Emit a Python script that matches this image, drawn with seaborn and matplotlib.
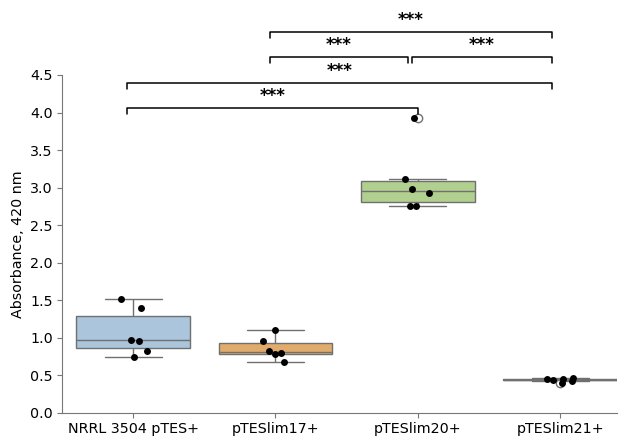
import numpy as np
import pandas as pd
import matplotlib
matplotlib.use("Agg")
import matplotlib.pyplot as plt
import seaborn as sns

# ---- data ----
strains = ["NRRL 3504 pTES+", "pTESlim17+", "pTESlim20+", "pTESlim21+"]
nrrl = [1.52, 1.40, 0.97, 0.96, 0.83, 0.74]
lim17 = [1.11, 0.96, 0.83, 0.78, 0.80, 0.68]
lim20 = [3.93, 3.12, 2.98, 2.93, 2.76, 2.76]
lim21 = [0.43, 0.445, 0.455, 0.46, 0.44, 0.40]
box_colors = ["#aac5dc", "#e1ac6b", "#b1cf8f", "#d9a0a0"]

# significance brackets: (left, right, height, label)
bracket_left = [-0.04, 0.96, 1.96, -0.04, 0.96]
bracket_right = [2.0, 1.93, 2.94, 2.94, 2.94]
bracket_y = [4.06, 4.74, 4.74, 4.39, 5.07]
bracket_text = ["***", "***", "***", "***", "***"]

df = pd.DataFrame({
    "strain": np.repeat(strains, [len(nrrl), len(lim17), len(lim20), len(lim21)]),
    "absorbance": nrrl + lim17 + lim20 + lim21,
})

sns.set_style("ticks", {"axes.edgecolor": "#777777", "xtick.color": "#777777",
                        "ytick.color": "#777777", "text.color": "black",
                        "axes.labelcolor": "black"})
plt.rcParams["xtick.labelcolor"] = "black"
plt.rcParams["ytick.labelcolor"] = "black"

fig = plt.figure(figsize=(6.19, 4.36), dpi=100)
ax = fig.add_axes([0.100, 0.053, 0.897, 0.775])

sns.boxplot(data=df, x="strain", y="absorbance", hue="strain", palette=box_colors,
            order=strains, width=0.8, linewidth=1, linecolor="#707070",
            saturation=1, legend=False, ax=ax,
            flierprops=dict(marker="o", markerfacecolor="white",
                            markeredgecolor="#707070", markersize=6))
np.random.seed(7)
sns.stripplot(data=df, x="strain", y="absorbance", order=strains, color="black",
              size=5, jitter=0.1, ax=ax)

for x1, x2, y, txt in zip(bracket_left, bracket_right, bracket_y, bracket_text):
    h = 0.08
    ax.plot([x1, x1, x2, x2], [y - h, y, y, y - h], color="black", lw=1.1, clip_on=False)
    ax.text((x1 + x2) / 2, y + 0.04, txt, ha="center", va="bottom", fontsize=12,
            fontweight="bold", clip_on=False)

ax.set_ylim(0, 4.5)
ax.set_yticks(np.arange(0, 4.51, 0.5))
ax.set_xlim(-0.5, 3.4)
ax.set_xlabel("")
ax.set_ylabel("Absorbance, 420 nm", fontsize=10.3)
ax.tick_params(labelsize=10.3, length=3.5, pad=3, labelcolor="black")
sns.despine(ax=ax)

plt.savefig("out.png", dpi=100)
